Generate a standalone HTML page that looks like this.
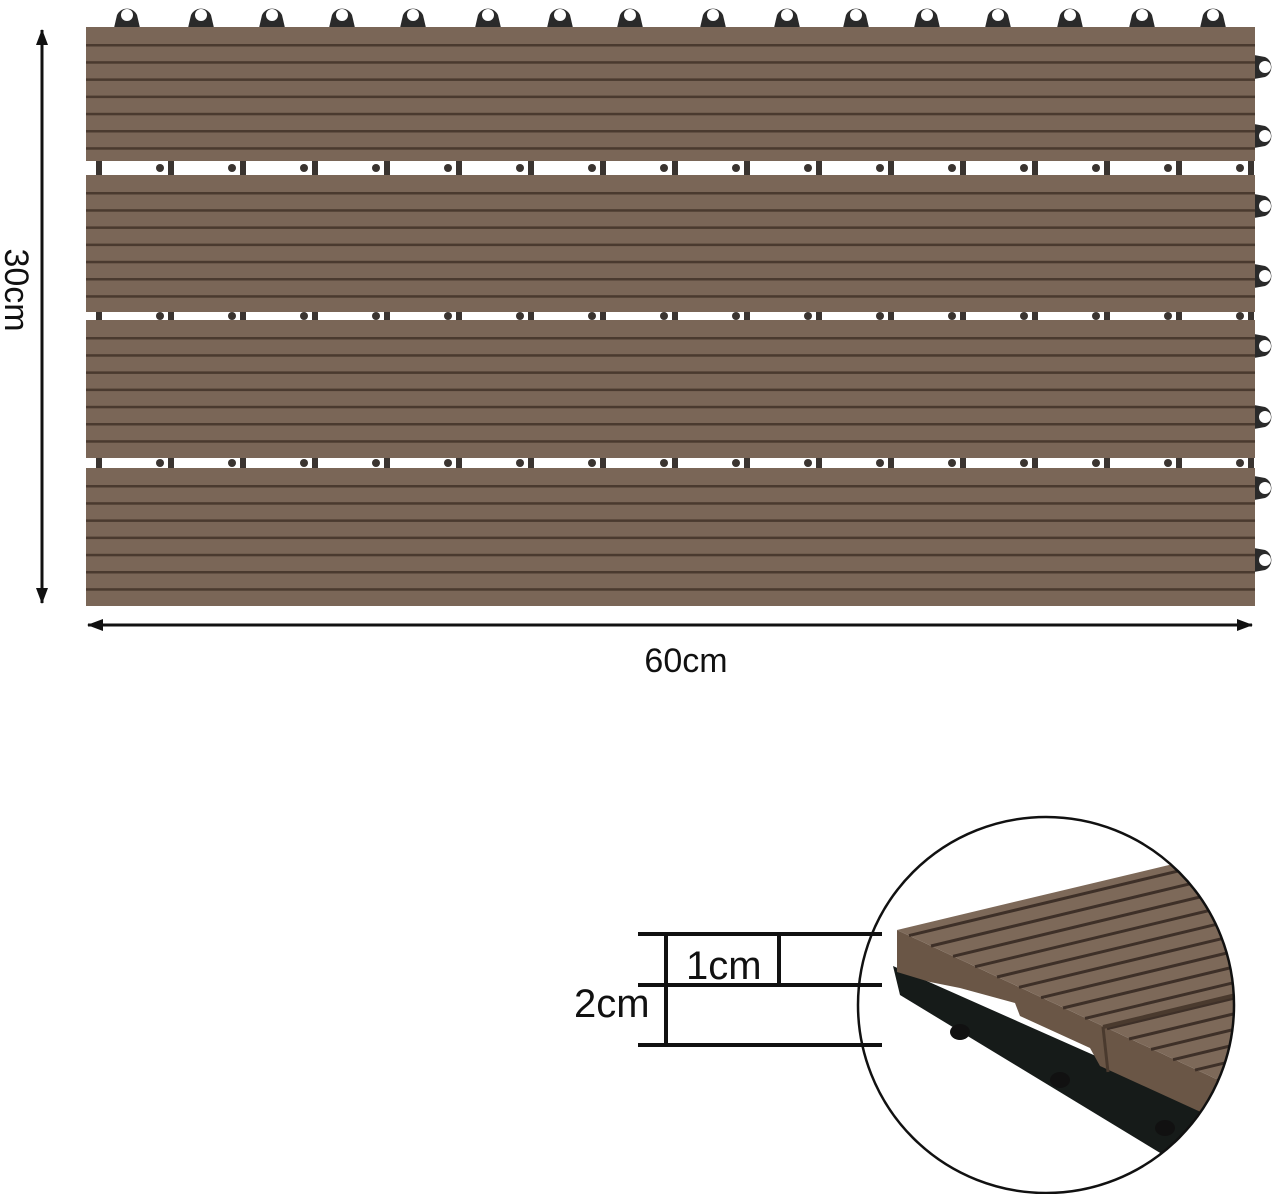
<!DOCTYPE html>
<html><head><meta charset="utf-8"><style>
html,body{margin:0;padding:0;background:#fff;width:1280px;height:1194px;overflow:hidden}
svg{display:block}
text{font-family:"Liberation Sans",sans-serif;fill:#111}
</style></head><body>
<svg id="s" width="1280" height="1194" viewBox="0 0 1280 1194" xmlns="http://www.w3.org/2000/svg">
<defs>
<marker id="ah" markerWidth="16" markerHeight="12" refX="15" refY="6" orient="auto-start-reverse" markerUnits="userSpaceOnUse"><path d="M0,0 L16,6 L0,12 z" fill="#111"/></marker>
<clipPath id="cc"><circle cx="1046" cy="1005" r="188"/></clipPath>
</defs>
<g id="tile"></g>
<line x1="42" y1="30" x2="42" y2="603" stroke="#111" stroke-width="3" marker-start="url(#ah)" marker-end="url(#ah)"/>
<line x1="88" y1="625" x2="1252" y2="625" stroke="#111" stroke-width="3" marker-start="url(#ah)" marker-end="url(#ah)"/>
<text x="686" y="672" font-size="34" text-anchor="middle">60cm</text>
<text transform="translate(5,290) rotate(90)" font-size="34" text-anchor="middle">30cm</text>
<g stroke="#111" stroke-width="4">
<line x1="638" y1="934" x2="882" y2="934"/>
<line x1="638" y1="985" x2="882" y2="985"/>
<line x1="638" y1="1045" x2="882" y2="1045"/>
<line x1="666" y1="934" x2="666" y2="1045"/>
<line x1="779" y1="934" x2="779" y2="985"/>
</g>
<text x="686" y="979" font-size="40">1cm</text>
<text x="574" y="1017" font-size="40">2cm</text>
<g clip-path="url(#cc)" id="det"></g>
<circle cx="1046" cy="1005" r="188" fill="none" stroke="#111" stroke-width="2.5"/>
</svg>
<script>
var g=document.getElementById('tile'),h='';
function r(x,y,w,hh,f){h+='<rect x="'+x+'" y="'+y+'" width="'+w+'" height="'+hh+'" fill="'+f+'"/>';}
function lug(cx,cy,dir){
 if(dir=='t'){h+='<path d="M'+(cx-13)+',28 L'+(cx-10)+','+(cy)+' A11,11 0 0 1 '+(cx+10)+','+cy+' L'+(cx+13)+',28 z" fill="#2a2a2a"/>';}
 else {h+='<path d="M1254,'+(cy-12)+' L'+cx+','+(cy-10)+' A11,11 0 0 1 '+cx+','+(cy+10)+' L1254,'+(cy+12)+' z" fill="#2a2a2a"/>';}
 h+='<circle cx="'+cx+'" cy="'+cy+'" r="6" fill="#fff"/>';
}
[127,201,272,342,413,488,560,630,713,787,856,927,998,1070,1142,1213].forEach(function(x){lug(x,15,'t');});
[67,136,206,276,346,417,488,560].forEach(function(y){lug(1265,y,'r');});
r(86,27,1169,579,'#7a6657');
[[27,161],[175,312],[320,458],[468,606]].forEach(function(b){
 for(var y=b[0]+17;y<b[1]-6;y+=17.2){h+='<rect x="86" y="'+y.toFixed(1)+'" width="1169" height="2.5" fill="#4a3a2f"/>';}
});
[[161,175],[312,320],[458,468]].forEach(function(gp){
 r(86,gp[0],1169,gp[1]-gp[0],'#fff');
 for(var x=96;x<1250;x+=72){r(x,gp[0],6,gp[1]-gp[0],'#3a3430');}
 for(var x=160;x<1250;x+=72){h+='<circle cx="'+x+'" cy="'+((gp[0]+gp[1])/2)+'" r="4" fill="#3a3430"/>';}
});
g.innerHTML=h;
var d='';
d+='<polygon points="893,966 1240,1120 1240,1194 1180,1165 900,995" fill="#161b19"/>';
[[960,1032],[1060,1080],[1165,1128]].forEach(function(p){d+='<ellipse cx="'+p[0]+'" cy="'+p[1]+'" rx="10" ry="8" fill="#111"/>';});
d+='<polygon points="897,930 1240,1090 1240,1130 1100,1066 1090,1048 1020,1016 1015,1003 960,988 930,982 897,972" fill="#6a5646"/>';
d+='<polygon points="897,930 1240,848 1240,1090" fill="#7d6959"/>';
for(var t=12;t<360;t+=22){var x0=897+t,y0=930+0.47*t;var y1=y0-0.24*(1240-x0);d+='<line x1="'+x0+'" y1="'+y0.toFixed(1)+'" x2="1240" y2="'+y1.toFixed(1)+'" stroke="#3e3028" stroke-width="3"/>';}
d+='<line x1="1103" y1="1027" x2="1108" y2="1072" stroke="#4a3a2e" stroke-width="3"/>';
d+='<line x1="1103" y1="1027" x2="1240" y2="994" stroke="#4a3a2e" stroke-width="4"/>';
document.getElementById('det').innerHTML=d;
</script>
</body></html>
